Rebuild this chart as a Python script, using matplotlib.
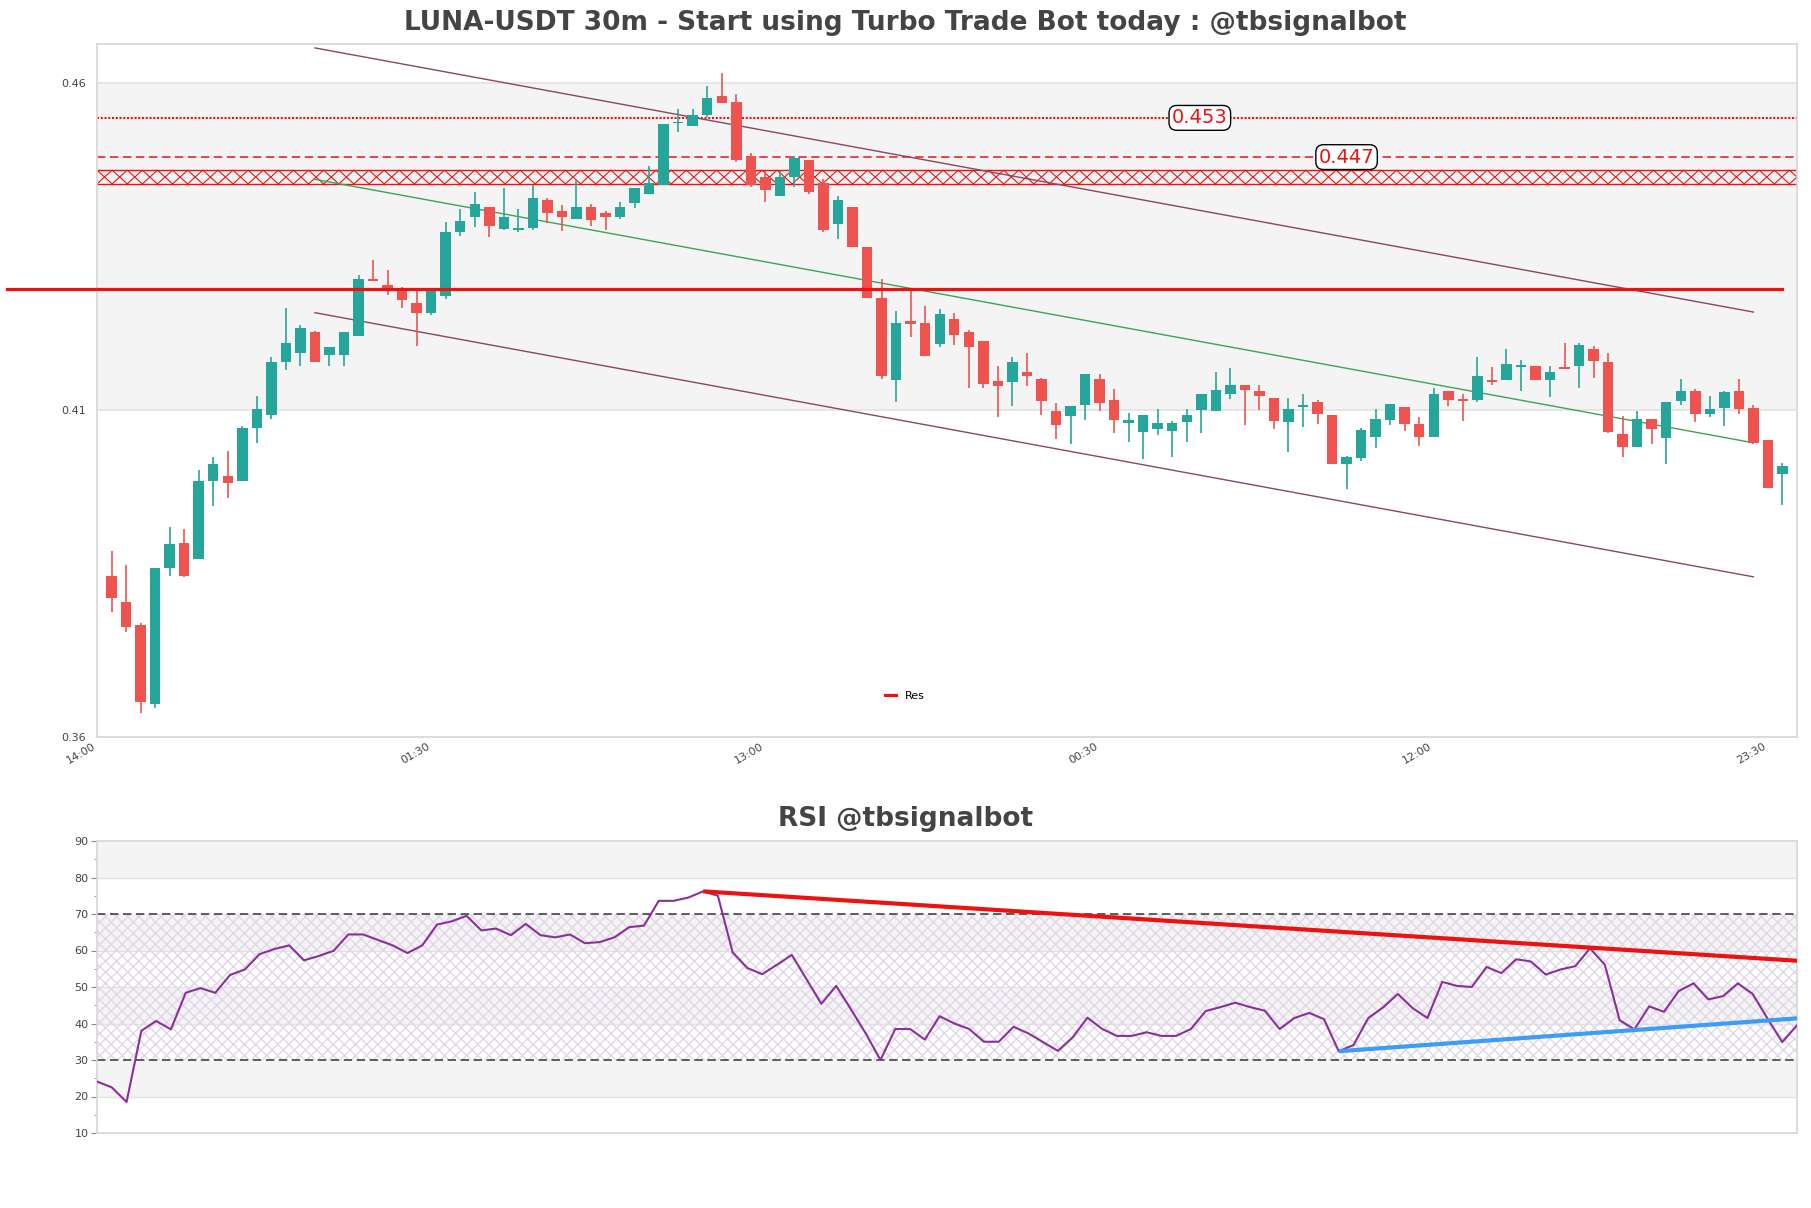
import matplotlib
matplotlib.use("Agg")
import matplotlib.pyplot as plt
import numpy as np

# ---------------- data ----------------
opens = [0.3847, 0.3807, 0.3772, 0.3650, 0.3858, 0.3896, 0.3873, 0.3992, 0.3999, 0.3992,
         0.4073, 0.4093, 0.4173, 0.4188, 0.4219, 0.4185, 0.4185, 0.4213, 0.4300, 0.4292,
         0.4287, 0.4264, 0.4248, 0.4274, 0.4373, 0.4395, 0.4410, 0.4377, 0.4376, 0.4378,
         0.4421, 0.4405, 0.4392, 0.4410, 0.4402, 0.4395, 0.4417, 0.4430, 0.4445, 0.4539,
         0.4534, 0.4551, 0.4580, 0.4572, 0.4488, 0.4457, 0.4427, 0.4456, 0.4483, 0.4447,
         0.4384, 0.4410, 0.4350, 0.4271, 0.4146, 0.4236, 0.4234, 0.4201, 0.4239, 0.4220,
         0.4205, 0.4144, 0.4143, 0.4159, 0.4147, 0.4098, 0.4091, 0.4108, 0.4148, 0.4115,
         0.4080, 0.4066, 0.4071, 0.4068, 0.4082, 0.4100, 0.4098, 0.4124, 0.4138, 0.4129,
         0.4118, 0.4082, 0.4105, 0.4113, 0.4092, 0.4017, 0.4027, 0.4059, 0.4085, 0.4105,
         0.4078, 0.4059, 0.4129, 0.4117, 0.4115, 0.4146, 0.4146, 0.4166, 0.4167, 0.4146,
         0.4166, 0.4167, 0.4193, 0.4174, 0.4064, 0.4043, 0.4087, 0.4057, 0.4114, 0.4129,
         0.4094, 0.4103, 0.4129, 0.4103, 0.4054, 0.4002]
highs = [0.3885, 0.3863, 0.3774, 0.3859, 0.3921, 0.3918, 0.4008, 0.4029, 0.4037, 0.4075,
         0.4121, 0.4181, 0.4256, 0.4230, 0.4221, 0.4197, 0.4220, 0.4306, 0.4330, 0.4314,
         0.4289, 0.4282, 0.4282, 0.4387, 0.4408, 0.4434, 0.4411, 0.4439, 0.4407, 0.4444,
         0.4425, 0.4413, 0.4453, 0.4416, 0.4405, 0.4419, 0.4440, 0.4473, 0.4537, 0.4560,
         0.4560, 0.4595, 0.4616, 0.4583, 0.4494, 0.4465, 0.4466, 0.4489, 0.4483, 0.4453,
         0.4428, 0.4410, 0.4350, 0.4300, 0.4252, 0.4287, 0.4260, 0.4255, 0.4249, 0.4223,
         0.4205, 0.4168, 0.4181, 0.4188, 0.4149, 0.4111, 0.4107, 0.4156, 0.4156, 0.4132,
         0.4095, 0.4092, 0.4101, 0.4084, 0.4101, 0.4125, 0.4158, 0.4164, 0.4138, 0.4138,
         0.4118, 0.4119, 0.4125, 0.4115, 0.4092, 0.4030, 0.4072, 0.4101, 0.4110, 0.4105,
         0.4089, 0.4134, 0.4130, 0.4124, 0.4182, 0.4166, 0.4194, 0.4176, 0.4167, 0.4167,
         0.4203, 0.4202, 0.4198, 0.4188, 0.4091, 0.4098, 0.4087, 0.4113, 0.4147, 0.4132,
         0.4121, 0.4129, 0.4147, 0.4108, 0.4054, 0.4019]
lows = [0.3791, 0.3761, 0.3637, 0.3644, 0.3847, 0.3844, 0.3873, 0.3953, 0.3966, 0.3992,
        0.4049, 0.4086, 0.4161, 0.4167, 0.4173, 0.4168, 0.4167, 0.4213, 0.4297, 0.4276,
        0.4256, 0.4198, 0.4246, 0.4270, 0.4366, 0.4380, 0.4365, 0.4376, 0.4372, 0.4375,
        0.4386, 0.4374, 0.4392, 0.4381, 0.4375, 0.4392, 0.4409, 0.4430, 0.4445, 0.4526,
        0.4534, 0.4549, 0.4569, 0.4480, 0.4442, 0.4418, 0.4427, 0.4442, 0.4431, 0.4373,
        0.4361, 0.4350, 0.4271, 0.4147, 0.4112, 0.4212, 0.4183, 0.4197, 0.4200, 0.4134,
        0.4134, 0.4090, 0.4106, 0.4137, 0.4092, 0.4056, 0.4048, 0.4085, 0.4098, 0.4065,
        0.4051, 0.4025, 0.4062, 0.4028, 0.4051, 0.4065, 0.4098, 0.4117, 0.4077, 0.4100,
        0.4071, 0.4036, 0.4074, 0.4079, 0.4017, 0.3979, 0.4022, 0.4042, 0.4077, 0.4068,
        0.4045, 0.4059, 0.4106, 0.4083, 0.4113, 0.4138, 0.4146, 0.4129, 0.4146, 0.4120,
        0.4163, 0.4134, 0.4149, 0.4065, 0.4028, 0.4043, 0.4048, 0.4017, 0.4108, 0.4082,
        0.4089, 0.4076, 0.4094, 0.4048, 0.3981, 0.3955]
closes = [0.3813, 0.3768, 0.3654, 0.3858, 0.3895, 0.3846, 0.3991, 0.4017, 0.3989, 0.4072,
          0.4101, 0.4174, 0.4203, 0.4226, 0.4174, 0.4197, 0.4220, 0.4300, 0.4297, 0.4282,
          0.4268, 0.4248, 0.4282, 0.4373, 0.4390, 0.4416, 0.4381, 0.4395, 0.4379, 0.4425,
          0.4401, 0.4395, 0.4410, 0.4391, 0.4395, 0.4411, 0.4440, 0.4448, 0.4537, 0.4541,
          0.4552, 0.4578, 0.4569, 0.4482, 0.4445, 0.4436, 0.4457, 0.4486, 0.4434, 0.4376,
          0.4421, 0.4350, 0.4271, 0.4152, 0.4234, 0.4231, 0.4183, 0.4247, 0.4215, 0.4196,
          0.4140, 0.4137, 0.4174, 0.4152, 0.4114, 0.4077, 0.4107, 0.4156, 0.4111, 0.4085,
          0.4085, 0.4092, 0.4081, 0.4080, 0.4093, 0.4124, 0.4131, 0.4139, 0.4131, 0.4121,
          0.4083, 0.4101, 0.4108, 0.4094, 0.4017, 0.4028, 0.4069, 0.4086, 0.4109, 0.4079,
          0.4059, 0.4124, 0.4115, 0.4114, 0.4152, 0.4143, 0.4171, 0.4169, 0.4146, 0.4158,
          0.4163, 0.4199, 0.4175, 0.4067, 0.4043, 0.4086, 0.4071, 0.4113, 0.4129, 0.4094,
          0.4101, 0.4128, 0.4102, 0.4050, 0.3981, 0.4014]

rsi = [24.1, 22.5, 18.5, 38.0, 40.7, 38.4, 48.4, 49.7, 48.4, 53.3,
       54.8, 59.0, 60.4, 61.4, 57.3, 58.5, 59.9, 64.4, 64.4, 62.9,
       61.4, 59.3, 61.4, 67.1, 68.0, 69.5, 65.5, 66.0, 64.2, 67.3,
       64.2, 63.6, 64.4, 62.0, 62.3, 63.6, 66.4, 66.8, 73.6, 73.6,
       74.5, 76.2, 75.0, 59.5, 55.2, 53.5, 56.1, 58.8, 52.1, 45.4,
       50.3, 43.9, 37.3, 30.0, 38.5, 38.5, 35.6, 42.0, 40.0, 38.5,
       35.0, 35.0, 39.1, 37.3, 34.9, 32.5, 36.2, 41.6, 38.5, 36.6,
       36.6, 37.6, 36.6, 36.6, 38.5, 43.4, 44.5, 45.7, 44.5, 43.5,
       38.5, 41.5, 42.9, 41.2, 32.4, 34.1, 41.5, 44.4, 48.1, 44.2,
       41.5, 51.4, 50.3, 50.0, 55.5, 53.8, 57.6, 57.0, 53.4, 54.8,
       55.7, 60.6, 56.1, 40.9, 38.4, 44.7, 43.2, 48.9, 51.0, 46.6,
       47.5, 51.0, 48.1, 41.4, 34.9, 39.5]

tick_pos = [0, 23, 46, 69, 92, 115]
tick_labels = ["14:00", "01:30", "13:00", "00:30", "12:00", "23:30"]
ytick_vals = [0.36, 0.41, 0.46]

res_level = 0.4285
res_x = [-6.2, 116]
level_dotted = 0.4547
level_dashed = 0.4487
zone = [0.4446, 0.4467]
label_dotted = "0.453"
label_dashed = "0.447"
label_x = [75.9, 86.0]

chan_x = [15, 114]
chan_upper = [0.4654, 0.4250]
chan_mid = [0.4453, 0.4050]
chan_lower = [0.4249, 0.3845]

rsi_down_x = [42, 116]
rsi_down_y = [76.2, 57.2]
rsi_up_x = [85, 116]
rsi_up_y = [32.4, 41.4]

title = "LUNA-USDT 30m - Start using Turbo Trade Bot today : @tbsignalbot"
rsi_title = "RSI @tbsignalbot"

# ---------------- figure ----------------
W, H = 1811, 1208
fig = plt.figure(figsize=(W / 100, H / 100), dpi=100)
fig.patch.set_facecolor("white")

ax = fig.add_axes([97 / W, 1 - 737 / H, 1700 / W, (737 - 44) / H])
ax2 = fig.add_axes([97 / W, 1 - 1133 / H, 1700 / W, (1133 - 841) / H])

GREEN = "#26a69a"
RED = "#ef5350"
LVL = "#ee1111"
GRID = "#e2e2e2"
SPINE = "#d6d6d6"
TXT = "#444444"

# ---- main price axes ----
ax.set_facecolor("white")
ax.axhspan(0.41, 0.46, color="#f4f4f4", zorder=0, lw=0)
for yv in (0.41, 0.46):
    ax.axhline(yv, color=GRID, lw=1.2, zorder=0.5)

x = np.arange(1, len(opens) + 1)
o = np.array(opens); h = np.array(highs); l = np.array(lows); c = np.array(closes)
cols = np.where(c >= o, GREEN, RED)
ax.vlines(x, l, h, colors=cols, lw=1.2, zorder=3)
bottoms = np.minimum(o, c)
heights = np.maximum(np.abs(c - o), 0.00018)
ax.bar(x, heights, bottom=bottoms, width=0.72, color=cols, zorder=4, lw=0)

# levels
ax.plot(res_x, [res_level, res_level], color=LVL, lw=2.3, clip_on=False,
        zorder=5, label="Res")
ax.axhline(level_dotted, color=LVL, lw=1.5, ls=(0, (1, 0.8)), zorder=2)
ax.axhline(level_dashed, color=LVL, lw=1.1, ls=(0, (5.5, 3)), zorder=2)

# hatched zone (cross pattern spanning the band height)
ax.axhline(zone[0], color=LVL, lw=1.0, zorder=2)
ax.axhline(zone[1], color=LVL, lw=1.0, zorder=2)
step = 1.04
zx = np.arange(0, 117 + step, step)
zig_a = np.where(np.arange(len(zx)) % 2 == 0, zone[0], zone[1])
zig_b = np.where(np.arange(len(zx)) % 2 == 0, zone[1], zone[0])
ax.plot(zx, zig_a, color=LVL, lw=0.8, zorder=2)
ax.plot(zx, zig_b, color=LVL, lw=0.8, zorder=2)

bbox = dict(boxstyle="round,pad=0.15,rounding_size=0.4", fc="white", ec="black", lw=1)
ax.text(label_x[0], level_dotted, label_dotted, color=LVL, fontsize=14,
        ha="center", va="center", bbox=bbox, zorder=6)
ax.text(label_x[1], level_dashed, label_dashed, color=LVL, fontsize=14,
        ha="center", va="center", bbox=bbox, zorder=6)

# channel
ax.plot(chan_x, chan_upper, color="#8a4665", lw=1.0, zorder=2.5)
ax.plot(chan_x, chan_lower, color="#8a4665", lw=1.0, zorder=2.5)
ax.plot(chan_x, chan_mid, color="#3aa655", lw=1.0, zorder=2.5)

ax.set_xlim(0, 117)
ax.set_ylim(0.36, 0.4660)
ax.set_yticks(ytick_vals)
ax.set_yticklabels([f"{v:.2f}" for v in ytick_vals])
ax.set_xticks(tick_pos)
ax.set_xticklabels(tick_labels, rotation=30, ha="right", rotation_mode="default")
ax.tick_params(axis="both", length=0, labelsize=8, colors=TXT)
ax.tick_params(axis="y", pad=8)
ax.tick_params(axis="x", pad=3)
for sp in ax.spines.values():
    sp.set_color(SPINE)
    sp.set_linewidth(1.2)

leg = ax.legend(loc="center", bbox_to_anchor=(0.475, 0.059), frameon=False,
                fontsize=8, handlelength=1.0, handletextpad=0.8)

fig.text(0.5, 1 - 23 / H, title, ha="center", va="center", fontsize=19,
         fontweight="bold", color=TXT)

# ---- RSI axes ----
ax2.set_facecolor("white")
for lo, hi in ((80, 90), (60, 70), (40, 50), (20, 30)):
    ax2.axhspan(lo, hi, color="#f4f4f4", lw=0, zorder=0)
for yv in (20, 40, 50, 60, 80):
    ax2.axhline(yv, color=GRID, lw=1.0, zorder=0.5)
ax2.axhspan(30, 70, facecolor="none", edgecolor="#e0d6e8", hatch="xxx", lw=0, zorder=0.6)
ax2.axhline(70, color="#333333", lw=1.1, ls=(0, (5.5, 3)), zorder=1)
ax2.axhline(30, color="#333333", lw=1.1, ls=(0, (5.5, 3)), zorder=1)

xr = np.arange(1, len(rsi) + 1)
ax2.plot(xr, rsi, color="#8b2f9c", lw=1.5, zorder=3)
ax2.plot(rsi_down_x, rsi_down_y, color=LVL, lw=3, zorder=4, solid_capstyle="butt")
ax2.plot(rsi_up_x, rsi_up_y, color="#3d9df2", lw=3, zorder=4, solid_capstyle="butt")

ax2.set_xlim(1, len(rsi))
ax2.set_ylim(10, 90)
ax2.set_yticks(range(10, 91, 10))
ax2.set_yticks(range(15, 90, 10), minor=True)
ax2.set_xticks([])
ax2.tick_params(axis="y", which="major", length=4, labelsize=8, colors=TXT, pad=2)
ax2.tick_params(axis="y", which="minor", length=2.5, colors="#888888")
ax2.tick_params(axis="y", which="major", color="#888888")
for sp in ax2.spines.values():
    sp.set_color(SPINE)
    sp.set_linewidth(1.2)

fig.text(0.5, 1 - 819 / H, rsi_title, ha="center", va="center", fontsize=19,
         fontweight="bold", color=TXT)

fig.savefig("out.png", dpi=100, facecolor="white")
